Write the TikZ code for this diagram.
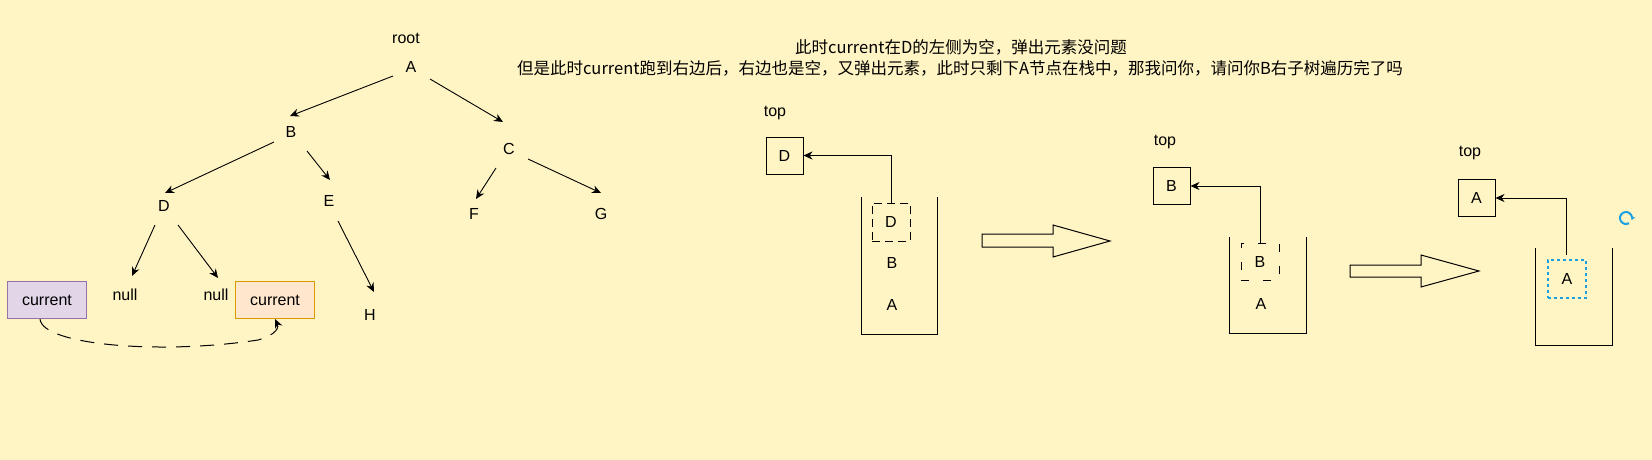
\documentclass[tikz,border=0pt]{standalone}
\usepackage{fontspec}
\setmainfont{Liberation Sans}
\newfontfamily\cjk{Noto Sans CJK SC}
\usetikzlibrary{arrows.meta}
\definecolor{bg}{HTML}{FFF4C3}
\definecolor{purf}{HTML}{E1D5E7}\definecolor{purd}{HTML}{9673A6}
\definecolor{orf}{HTML}{FFE6CC}\definecolor{ord}{HTML}{D79B00}
\definecolor{blu}{HTML}{1BA1E2}
\begin{document}
\begin{tikzpicture}[x=1pt,y=-1pt,font=\fontsize{16}{18}\selectfont,
  lbl/.style={inner sep=1pt},
  arr/.style={-{Stealth[length=9pt,width=8pt]},line width=0.9pt},
  sbox/.style={draw,line width=1pt,minimum width=37pt,minimum height=37pt,inner sep=0pt},
  cbox/.style={draw,line width=1pt,minimum width=79pt,minimum height=37pt},
  stk/.style={line width=1pt},
  conn/.style={-{Stealth[length=9pt,width=8pt]},line width=0.8pt},
  blk/.style={draw,line width=1pt}]
\fill[bg] (0,0) rectangle (1652,460);
\useasboundingbox (0,0) rectangle (1652,460);
% tree
\node[lbl] (root) at (406,38) {root};
\node[lbl] (A) at (411,67) {A};
\node[lbl] (B) at (291,132) {B};
\node[lbl] (C) at (509,149) {C};
\node[lbl] (D) at (164,206) {D};
\node[lbl] (E) at (329,201) {E};
\node[lbl] (F) at (474,214) {F};
\node[lbl] (G) at (601,214) {G};
\node[lbl] (n1) at (125,295) {null};
\node[lbl] (n2) at (216,295) {null};
\node[lbl] (H) at (370,315) {H};
\draw[arr] (393,76) -- (290,116);
\draw[arr] (430,79) -- (503,122);
\draw[arr] (274,142) -- (165,193);
\draw[arr] (307,151) -- (330,180);
\draw[arr] (496,168) -- (476,199);
\draw[arr] (528,159) -- (601,193);
\draw[arr] (155,225) -- (132,276);
\draw[arr] (178,225) -- (218,278);
\draw[arr] (338,221) -- (374,292);
\node[cbox,fill=purf,draw=purd] (c1) at (47,300) {current};
\node[cbox,fill=orf,draw=ord] (c2) at (275,300) {current};
\draw[arr,dash pattern=on 14pt off 10pt,line width=1pt] (c1.south)+(-7,0) .. controls (42,345) and (160,355) .. (258,340) .. controls (270,337) and (280,330) .. (c2.south);
% titles
\node[font=\fontsize{16.5}{18}\selectfont] (t1) at (961,47) {\cjk 此时current在D的左侧为空，弹出元素没问题};
\node[font=\fontsize{16.5}{18}\selectfont] (t2) at (960,68) {\cjk 但是此时current跑到右边后，右边也是空，又弹出元素，此时只剩下A节点在栈中，那我问你，请问你B右子树遍历完了吗};
% stack 1
\node[lbl] (top1) at (775,113) {top};
\node[sbox] (sD) at (784.5,155.5) {D};
\draw[stk] (861,197) -- (861,334) -- (937,334) -- (937,197);
\node[draw,dashed,dash pattern=on 8pt off 5pt,line width=1pt,minimum width=38pt,minimum height=38pt] (dD) at (891,222) {D};
\node[lbl] (B1) at (892,263) {B};
\node[lbl] (A1) at (892,305) {A};
\draw[conn] (dD.north) |- (sD.east);
\draw[blk] (982,234) -- (1053,234) -- (1053,225) -- (1110,241) -- (1053,257) -- (1053,247) -- (982,247) -- cycle;
% stack 2
\node[lbl] (top2) at (1165,142) {top};
\node[sbox] (sB) at (1171.5,186) {B};
\draw[stk] (1229,237) -- (1229,333) -- (1306,333) -- (1306,237);
\node[draw,dashed,dash pattern=on 8pt off 14pt,line width=1pt,minimum width=38pt,minimum height=37pt] (dB) at (1260,261.5) {B};
\node[lbl] (A2) at (1261,304) {A};
\draw[conn] (dB.north) |- (sB.east);
\draw[blk] (1350,265) -- (1421,265) -- (1421,255) -- (1479,271) -- (1421,287) -- (1421,277) -- (1350,277) -- cycle;
% stack 3
\node[lbl] (top3) at (1470,153) {top};
\node[sbox] (sA) at (1476.5,198) {A};
\draw[stk] (1535,248) -- (1535,345) -- (1612,345) -- (1612,248);
\node[draw=blu,dashed,dash pattern=on 3pt off 3pt,line width=1.2pt,minimum width=38pt,minimum height=38pt] (dA) at (1567,279) {A};
\coordinate (cs) at (1566,255);
\draw[conn] (cs) |- (sA.east);
% refresh icon
\draw[blu,line width=2pt,-{Stealth[length=4pt,width=5pt]}] (1626,218) ++(60:6) arc (60:380:6);
\end{tikzpicture}
\end{document}
